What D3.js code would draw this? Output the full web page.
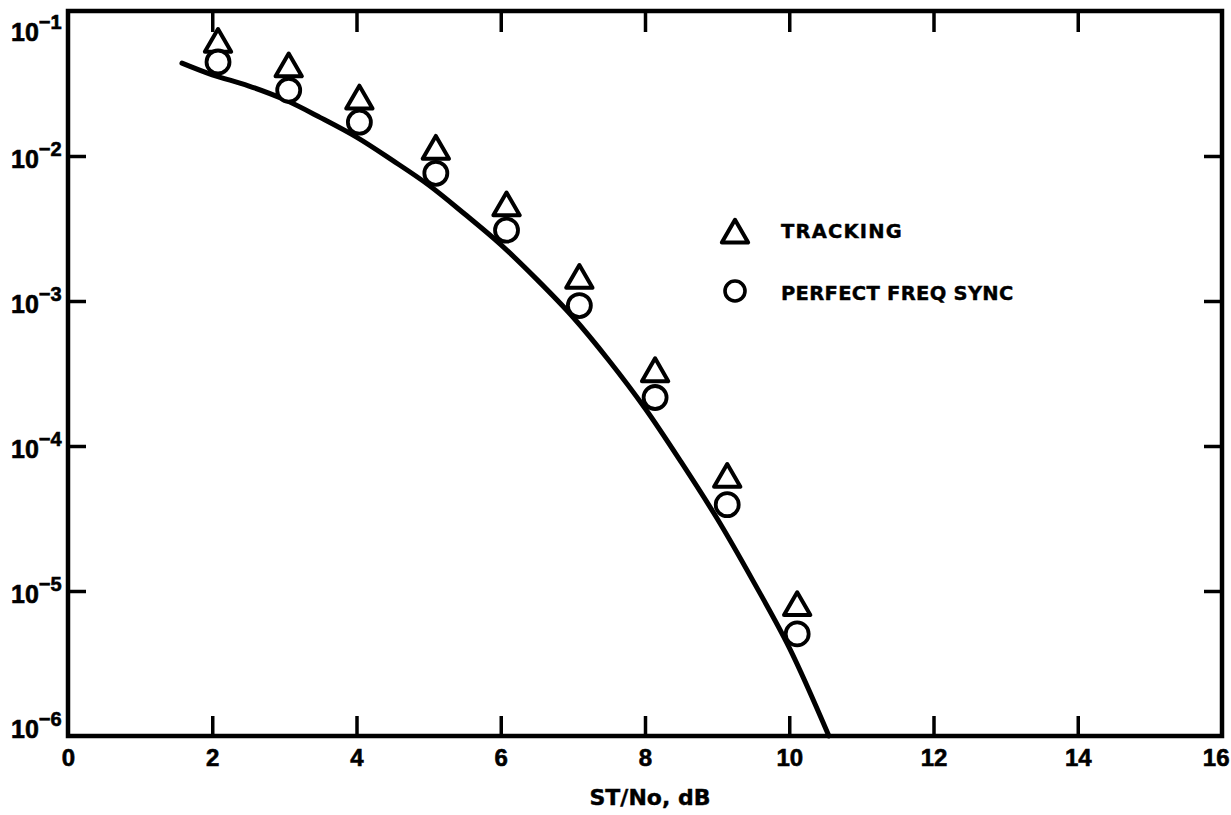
<!DOCTYPE html>
<html>
<head>
<meta charset="utf-8">
<script src="https://cdn.jsdelivr.net/npm/d3@7"></script>
<style>
  html, body { margin: 0; padding: 0; background: #fff; }
  svg { display: block; }
</style>
</head>
<body>
<svg id="chart" width="1231" height="815"></svg>
<script>
// ---- data ----
const xTicks = [0, 2, 4, 6, 8, 10, 12, 14, 16];
const yExponents = [-1, -2, -3, -4, -5, -6];

// series: TRACKING (triangles)
const trackingX = [2.08, 3.06, 4.04, 5.10, 6.08, 7.09, 8.14, 9.14, 10.11];
const trackingY = [5.9e-2, 4.0e-2, 2.4e-2, 1.08e-2, 4.4e-3, 1.39e-3, 3.16e-4, 5.9e-5, 7.7e-6];

// series: PERFECT FREQ SYNC (circles)
const perfectX = [2.08, 3.06, 4.04, 5.10, 6.08, 7.09, 8.14, 9.14, 10.11];
const perfectY = [4.45e-2, 2.84e-2, 1.71e-2, 7.6e-3, 3.08e-3, 9.3e-4, 2.16e-4, 3.94e-5, 5.06e-6];

// theoretical curve (solid line)
const curveX = [1.58, 2.0, 2.5, 3.0, 3.5, 4.0, 4.5, 5.0, 5.5, 6.0, 6.5, 7.0, 7.5, 8.0, 8.5, 9.0, 9.5, 10.0, 10.55];
const curveY = [4.37e-2, 3.63e-2, 3.05e-2, 2.45e-2, 1.84e-2, 1.35e-2, 9.33e-3, 6.31e-3, 3.98e-3, 2.45e-3, 1.41e-3, 7.76e-4, 3.89e-4, 1.82e-4, 7.76e-5, 3.16e-5, 1.17e-5, 4.07e-6, 1.0e-6];

const legendLabels = ["TRACKING", "PERFECT FREQ SYNC"];
const xTitle = "ST/No, dB";

// ---- drawing ----
const svg = d3.select("#chart");
const pLeft = 68, pRight = 1222, pTop = 11, pBottom = 736;

const x = d3.scaleLinear().domain([0, 16]).range([pLeft, pRight]);
const y = d3.scaleLog().domain([1e-6, 1e-1]).range([pBottom, pTop]);

const ink = "#000";
const tickFont = "'Liberation Sans', Arial, sans-serif";
const labelFont = "'DejaVu Sans', sans-serif";

// frame
svg.append("rect")
  .attr("x", pLeft).attr("y", pTop)
  .attr("width", pRight - pLeft).attr("height", pBottom - pTop)
  .attr("fill", "none").attr("stroke", ink).attr("stroke-width", 4.5);

// bottom axis ticks (inward) + labels
const xAxisB = d3.axisBottom(x).tickValues(xTicks).tickSize(-20).tickPadding(10).tickFormat(d3.format("d"));
const gB = svg.append("g").attr("transform", `translate(0,${pBottom})`).call(xAxisB);
gB.select(".domain").remove();
gB.selectAll(".tick line").attr("stroke", ink).attr("stroke-width", 3.5)
  .filter(d => d === 0 || d === 16).remove();
gB.selectAll(".tick text")
  .attr("fill", ink).attr("font-family", tickFont).attr("font-weight", "bold")
  .attr("font-size", 24).attr("dy", null).attr("y", 30)
  .attr("stroke", ink).attr("stroke-width", 0.6)
  .filter(d => d === 16).attr("text-anchor", "end").attr("x", 7);

// top axis ticks (inward)
const xAxisT = d3.axisTop(x).tickValues(xTicks.filter(d => d > 0 && d < 16)).tickSize(-21).tickFormat("");
const gT = svg.append("g").attr("transform", `translate(0,${pTop})`).call(xAxisT);
gT.select(".domain").remove();
gT.selectAll(".tick line").attr("stroke", ink).attr("stroke-width", 3.5);

// left axis ticks (inward)
const yVals = yExponents.map(e => Math.pow(10, e));
const innerY = yVals.filter(v => v < 0.099 && v > 1.01e-6);
const yAxisL = d3.axisLeft(y).tickValues(innerY).tickSize(-18).tickFormat("");
const gL = svg.append("g").attr("transform", `translate(${pLeft},0)`).call(yAxisL);
gL.select(".domain").remove();
gL.selectAll(".tick line").attr("stroke", ink).attr("stroke-width", 3.5);

// right axis ticks (inward)
const yAxisR = d3.axisRight(y).tickValues(innerY).tickSize(-18).tickFormat("");
const gR = svg.append("g").attr("transform", `translate(${pRight},0)`).call(yAxisR);
gR.select(".domain").remove();
gR.selectAll(".tick line").attr("stroke", ink).attr("stroke-width", 3.5);

// y labels 10^-n (edge labels nudged inside, as in the original)
const yl = svg.append("g");
yExponents.forEach(e => {
  const yy = y(Math.pow(10, e));
  const off = e === -1 ? 30 : (e === -6 ? 2 : 12);
  const t = yl.append("text")
    .attr("x", 11).attr("y", yy + off)
    .attr("fill", ink).attr("font-family", tickFont).attr("font-weight", "bold")
    .attr("font-size", 25).attr("stroke", ink).attr("stroke-width", 0.6);
  t.append("tspan").text("10");
  t.append("tspan").attr("dy", -12).attr("font-size", 20).attr("dx", 0)
    .text(String(e).replace("-", "\u2212"));
});

// theoretical curve
const line = d3.line()
  .x(d => x(d[0])).y(d => y(d[1]))
  .curve(d3.curveCatmullRom.alpha(0.5));
svg.append("path")
  .datum(curveX.map((v, i) => [v, curveY[i]]))
  .attr("d", line)
  .attr("fill", "none").attr("stroke", ink).attr("stroke-width", 5)
  .attr("stroke-linecap", "round");

// markers
const tri = d3.symbol().type(d3.symbolTriangle).size(300);
svg.append("g").selectAll("path")
  .data(trackingX.map((v, i) => [v, trackingY[i]]))
  .join("path")
  .attr("d", tri)
  .attr("transform", d => `translate(${x(d[0])},${y(d[1])})`)
  .attr("fill", "#fff").attr("stroke", ink).attr("stroke-width", 4)
  .attr("stroke-linejoin", "round");

svg.append("g").selectAll("circle")
  .data(perfectX.map((v, i) => [v, perfectY[i]]))
  .join("circle")
  .attr("cx", d => x(d[0])).attr("cy", d => y(d[1])).attr("r", 11.5)
  .attr("fill", "#fff").attr("stroke", ink).attr("stroke-width", 3.8);

// legend
const lg = svg.append("g");
lg.append("path").attr("d", tri).attr("transform", "translate(735,235)")
  .attr("fill", "#fff").attr("stroke", ink).attr("stroke-width", 4).attr("stroke-linejoin", "round");
lg.append("circle").attr("cx", 735).attr("cy", 291).attr("r", 10)
  .attr("fill", "#fff").attr("stroke", ink).attr("stroke-width", 3.6);
lg.selectAll("text").data(legendLabels).join("text")
  .attr("x", 781).attr("y", (d, i) => 238 + i * 62)
  .attr("fill", ink).attr("font-family", labelFont).attr("font-weight", "bold")
  .attr("font-size", 19.5).attr("letter-spacing", (d, i) => i === 0 ? 1.2 : 0.3)
  .attr("stroke", ink).attr("stroke-width", 0.4)
  .text(d => d);

// x axis title
svg.append("text")
  .attr("x", 650).attr("y", 805).attr("text-anchor", "middle")
  .attr("fill", ink).attr("font-family", labelFont).attr("font-weight", "bold")
  .attr("font-size", 22).attr("stroke", ink).attr("stroke-width", 0.4)
  .text(xTitle);
</script>
</body>
</html>
